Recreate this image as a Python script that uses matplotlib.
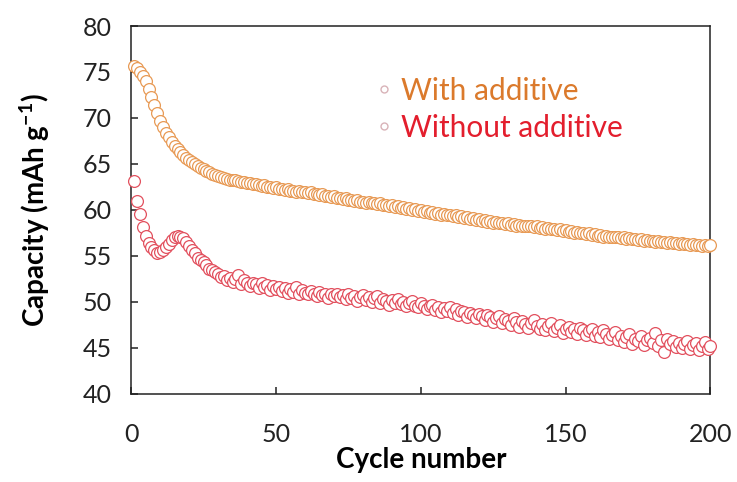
import matplotlib
matplotlib.use("Agg")
import matplotlib.pyplot as plt
from matplotlib.lines import Line2D

plt.rcParams['font.family'] = ['Lato', 'DejaVu Sans']
plt.rcParams['mathtext.default'] = 'regular'

# cycle index
cycles = list(range(1, 201))

# With additive (mAh/g)
with_additive = [
    75.6, 75.4, 75.0, 74.6, 74.0, 73.2, 72.3, 71.4, 70.5, 69.7,
    69.0, 68.4, 67.9, 67.4, 67.0, 66.6, 66.3, 66.0, 65.7, 65.4,
    65.2, 65.0, 64.8, 64.6, 64.4, 64.2, 64.1, 63.9, 63.8, 63.7,
    63.6, 63.5, 63.4, 63.3, 63.3, 63.2, 63.1, 63.0, 63.0, 62.9,
    62.9, 62.8, 62.8, 62.7, 62.6, 62.7, 62.5, 62.5, 62.4, 62.5,
    62.3, 62.3, 62.2, 62.3, 62.1, 62.1, 62.0, 62.1, 61.9, 61.9,
    61.8, 61.9, 61.7, 61.7, 61.6, 61.7, 61.5, 61.5, 61.4, 61.5,
    61.3, 61.3, 61.2, 61.3, 61.1, 61.1, 61.0, 61.1, 60.9, 60.9,
    60.8, 60.9, 60.7, 60.7, 60.6, 60.7, 60.5, 60.5, 60.4, 60.5,
    60.3, 60.4, 60.2, 60.3, 60.1, 60.2, 60.0, 60.1, 59.9, 60.0,
    59.8, 59.9, 59.7, 59.8, 59.6, 59.7, 59.5, 59.6, 59.4, 59.5,
    59.3, 59.4, 59.2, 59.3, 59.1, 59.2, 59.0, 59.1, 58.9, 59.0,
    58.8, 58.9, 58.7, 58.8, 58.6, 58.7, 58.6, 58.6, 58.5, 58.6,
    58.4, 58.5, 58.3, 58.4, 58.3, 58.3, 58.2, 58.3, 58.1, 58.2,
    58.0, 58.1, 57.9, 58.0, 57.9, 57.9, 57.8, 57.9, 57.7, 57.8,
    57.6, 57.7, 57.5, 57.6, 57.5, 57.5, 57.4, 57.5, 57.3, 57.4,
    57.2, 57.3, 57.1, 57.2, 57.1, 57.1, 57.0, 57.1, 56.9, 57.0,
    56.8, 56.9, 56.8, 56.8, 56.7, 56.8, 56.6, 56.7, 56.6, 56.6,
    56.5, 56.6, 56.5, 56.5, 56.4, 56.5, 56.4, 56.4, 56.3, 56.4,
    56.3, 56.3, 56.2, 56.3, 56.2, 56.2, 56.1, 56.2, 56.1, 56.2,
]

# Without additive
without_additive = [
    63.1, 61.0, 59.6, 58.1, 57.2, 56.4, 56.0, 55.6, 55.3, 55.4,
    55.6, 56.0, 56.3, 56.7, 57.0, 57.2, 57.1, 56.9, 56.5, 56.1,
    55.6, 55.3, 54.8, 54.6, 54.3, 54.0, 53.6, 53.5, 53.2, 53.0,
    52.7, 52.8, 52.4, 52.6, 52.2, 52.5, 52.9, 51.9, 52.4, 52.0,
    51.7, 52.1, 51.9, 51.5, 52.0, 51.6, 51.8, 51.3, 51.7, 51.4,
    51.6, 51.2, 51.5, 51.0, 51.4, 51.1, 51.6, 50.9, 51.3, 51.0,
    50.8, 51.2, 50.9, 50.6, 51.1, 50.7, 50.9, 50.4, 50.8, 50.6,
    50.9, 50.5, 50.7, 50.3, 50.8, 50.4, 50.6, 50.1, 50.5, 50.7,
    50.2, 50.5, 50.0, 50.4, 50.6, 49.9, 50.3, 50.1, 49.7, 50.2,
    49.9, 50.3, 49.8, 50.0, 49.5, 49.9, 50.1, 49.6, 49.4, 49.9,
    49.6, 49.2, 49.5, 49.7, 49.1, 49.4, 48.9, 49.3, 49.0, 49.4,
    48.8, 49.2, 48.6, 49.0, 48.9, 48.4, 48.8, 48.6, 48.2, 48.7,
    48.5, 48.0, 48.6, 48.3, 47.8, 48.2, 48.5, 47.7, 48.1, 47.9,
    47.5, 48.2, 47.8, 47.3, 47.9, 47.6, 47.2, 47.7, 48.0, 47.4,
    47.1, 47.6, 46.9, 47.4, 47.7, 46.8, 47.2, 47.5, 46.6, 47.0,
    47.3, 46.7, 47.1, 46.5, 47.2, 46.9, 46.4, 46.8, 47.0, 46.3,
    46.7, 46.2, 46.9, 46.5, 46.0, 46.4, 46.7, 45.8, 46.3, 45.6,
    46.2, 46.5, 45.4, 46.0, 45.7, 46.3, 45.3, 45.9, 46.1, 45.5,
    46.6, 45.2, 45.8, 44.6, 46.0, 45.4, 45.7, 45.1, 45.5, 45.0,
    45.4, 45.7, 44.9, 45.3, 45.5, 44.8, 45.2, 45.6, 44.9, 45.2,
]

x_ticks = [0, 50, 100, 150, 200]
y_ticks = [40, 45, 50, 55, 60, 65, 70, 75, 80]

orange = '#E89A55'
red = '#E2505E'

fig = plt.figure(figsize=(7.37, 4.82), dpi=100)
ax = fig.add_axes([0.178, 0.183, 0.786, 0.763])

ax.plot(cycles, with_additive, 'o', ms=8.5, mfc='white', mec=orange, mew=0.9, clip_on=False, zorder=3)
ax.plot(cycles, without_additive, 'o', ms=8.5, mfc='white', mec=red, mew=0.9, clip_on=False, zorder=3)

ax.set_xlim(0, 200)
ax.set_ylim(40, 80)
ax.set_xticks(x_ticks)
ax.set_yticks(y_ticks)
ax.tick_params(direction='in', length=5, width=1.1, labelsize=18, colors='#222222')
ax.tick_params(axis='y', pad=14)
ax.tick_params(axis='x', pad=21)
for s in ax.spines.values():
    s.set_linewidth(1.1)
    s.set_color('#222222')

ax.set_xlabel('Cycle number', fontsize=20, fontweight='bold', labelpad=1)
ax.set_ylabel('Capacity (mAh g$^{-1}$)', fontsize=20, fontweight='bold', labelpad=22)

handles = [Line2D([], [], ls='', marker='o', ms=5, mfc='white', mec='#D9B3B8', mew=1.0),
           Line2D([], [], ls='', marker='o', ms=5, mfc='white', mec='#D9B3B8', mew=1.0)]
ax.legend(handles, ['With additive', 'Without additive'], loc='upper left',
          bbox_to_anchor=(0.365, 0.935), frameon=False, fontsize=21.5,
          labelcolor=['#DB7A2C', '#E31E2D'], handletextpad=0.05, handlelength=1.0,
          labelspacing=0.3)

fig.savefig('out.png', dpi=100)
